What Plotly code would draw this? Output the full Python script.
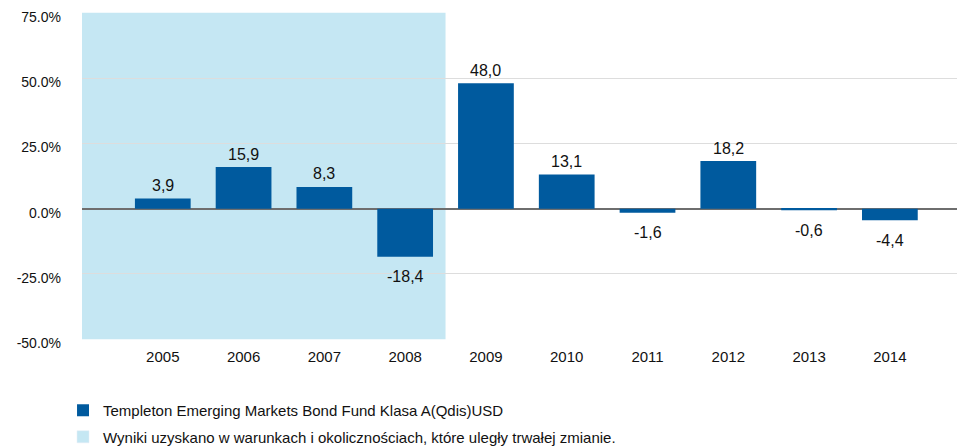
import plotly.graph_objects as go

years = ["2005", "2006", "2007", "2008", "2009", "2010", "2011", "2012", "2013", "2014"]
values = [3.9, 15.9, 8.3, -18.4, 48.0, 13.1, -1.6, 18.2, -0.6, -4.4]
labels = ["3,9", "15,9", "8,3", "-18,4", "48,0", "13,1", "-1,6", "18,2", "-0,6", "-4,4"]
series_name = "Templeton Emerging Markets Bond Fund Klasa A(Qdis)USD"
shade_name = "Wyniki uzyskano w warunkach i okolicznościach, które uległy trwałej zmianie."
shade_years = ["2005", "2006", "2007", "2008"]
y_ticks = [-50, -25, 0, 25, 50, 75]
y_ticktext = ["-50.0%", "-25.0%", "0.0%", "25.0%", "50.0%", "75.0%"]

DARK = "#005A9E"
LIGHT = "#C5E7F3"
FONT = "Liberation Sans, Arial, sans-serif"
TXT = "#111111"

x_idx = list(range(len(years)))

fig = go.Figure()

fig.add_trace(go.Bar(
    x=x_idx, y=values, width=0.69, marker=dict(color=DARK, line=dict(width=0)),
    name=series_name, legendgroup="a", hoverinfo="skip",
))
# dummy trace for shaded-region legend entry
fig.add_trace(go.Bar(
    x=[x_idx[0]], y=[None], marker=dict(color=LIGHT), name=shade_name, legendgroup="b",
    hoverinfo="skip",
))

for xi, v, lab in zip(x_idx, values, labels):
    fig.add_annotation(x=xi, y=v, text=lab, showarrow=False, xref="x", yref="y",
                       yanchor="middle", yshift=13 if v >= 0 else -20,
                       font=dict(size=16, color=TXT, family=FONT))

shade_start = -1
shade_end = years.index(shade_years[-1]) + 0.5
fig.add_shape(type="rect", xref="x", yref="y", x0=shade_start, x1=shade_end,
              y0=y_ticks[0], y1=y_ticks[-1], fillcolor=LIGHT, line=dict(width=0),
              layer="below")

fig.update_layout(
    width=957, height=440,
    margin=dict(l=74, r=0, t=4, b=108, autoexpand=False),
    plot_bgcolor="white", paper_bgcolor="white",
    font=dict(family=FONT, size=15, color=TXT),
    showlegend=True,
    barmode="overlay",
    legend=dict(orientation="v", xref="container", yref="container",
                x=0.0575, xanchor="left", y=0.1227, yanchor="top",
                font=dict(size=15, family=FONT, color=TXT),
                tracegroupgap=4, bgcolor="rgba(0,0,0,0)"),
    xaxis=dict(range=[-1, 9.93], tickmode="array", tickvals=x_idx, ticktext=years,
               showgrid=False, zeroline=False, showline=False, ticks="",
               ticklabelstandoff=6,
               tickfont=dict(size=15, family=FONT, color=TXT)),
    yaxis=dict(range=[y_ticks[0] - 0.3, y_ticks[-1] + 0.3], tickmode="array", tickvals=y_ticks,
               ticktext=y_ticktext, showgrid=True, gridcolor="#DDDDDD", gridwidth=1,
               zeroline=True, zerolinecolor="#6E6E6E", zerolinewidth=2,
               showline=False, ticks="", ticklabelstandoff=20,
               ticklabeloverflow="allow", ticklabelshift=4,
               tickfont=dict(size=14, family=FONT, color=TXT)),
)

fig.write_html("out.html")
